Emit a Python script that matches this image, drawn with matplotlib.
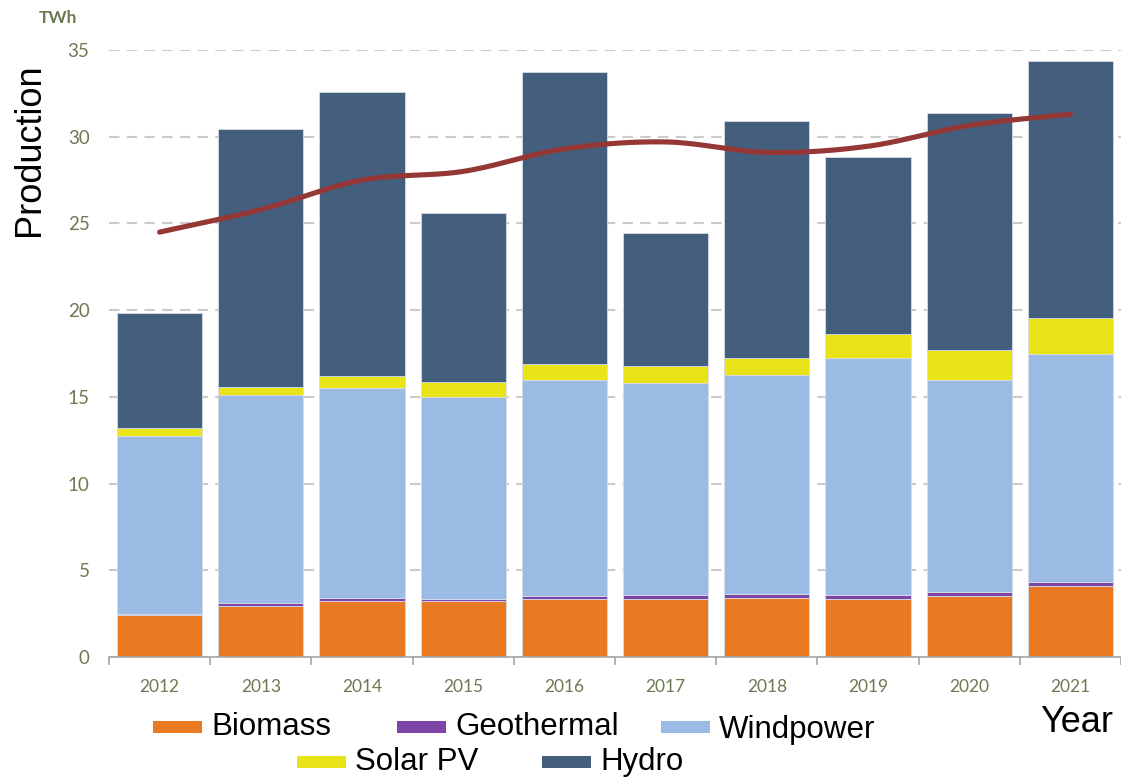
import numpy as np
import matplotlib
matplotlib.use('Agg')
import matplotlib.pyplot as plt
from matplotlib.patches import Rectangle

years = ['2012', '2013', '2014', '2015', '2016', '2017', '2018', '2019', '2020', '2021']
biomass = [2.42, 2.94, 3.22, 3.22, 3.34, 3.32, 3.42, 3.36, 3.51, 4.12]
geothermal = [0.08, 0.19, 0.19, 0.15, 0.16, 0.25, 0.23, 0.21, 0.21, 0.21]
windpower = [10.26, 11.97, 12.11, 11.63, 12.50, 12.21, 12.59, 13.68, 12.28, 13.13]
solar_pv = [0.42, 0.48, 0.66, 0.83, 0.87, 1.01, 1.01, 1.37, 1.71, 2.06]
hydro = [6.66, 14.89, 16.40, 9.78, 16.89, 7.63, 13.64, 10.22, 13.64, 14.87]
trend = [24.5, 25.8, 27.5, 28.0, 29.3, 29.7, 29.1, 29.45, 30.65, 31.3]

series_names = ['Biomass', 'Geothermal', 'Windpower', 'Solar PV', 'Hydro']
series_colors = ['#E87A24', '#7E45A6', '#9BBAE4', '#E8E418', '#445F7E']
series_vals = [biomass, geothermal, windpower, solar_pv, hydro]

W, H = 1121, 778
fig = plt.figure(figsize=(W / 100, H / 100), dpi=100)
ax = fig.add_axes([109 / W, (H - 657) / H, 1012 / W, 607 / H])

x = np.arange(len(years))
bottom = np.zeros(len(years))
for name, col, vals in zip(series_names, series_colors, series_vals):
    v = np.array(vals)
    ax.bar(x, v, width=0.84, bottom=bottom, color=col, edgecolor='#D5DCE6',
           linewidth=0.6, zorder=3, label=name)
    bottom += v

# smoothed trend line (Catmull-Rom, like Excel's smoothed line)
t = np.array(trend, dtype=float)
px = np.concatenate([[2 * x[0] - x[1]], x, [2 * x[-1] - x[-2]]]).astype(float)
py = np.concatenate([[2 * t[0] - t[1]], t, [2 * t[-1] - t[-2]]])
sx, sy = [], []
for i in range(1, len(px) - 2):
    p0, p1, p2, p3 = (np.array([px[j], py[j]]) for j in (i - 1, i, i + 1, i + 2))
    c1 = p1 + (p2 - p0) / 6
    c2 = p2 - (p3 - p1) / 6
    s = np.linspace(0, 1, 30)[:, None]
    pts = (1 - s) ** 3 * p1 + 3 * (1 - s) ** 2 * s * c1 + 3 * (1 - s) * s ** 2 * c2 + s ** 3 * p2
    sx.extend(pts[:, 0]); sy.extend(pts[:, 1])
ax.plot(sx, sy, color='#953735', linewidth=3.7, solid_capstyle='round', zorder=4, clip_on=False)

ax.set_xlim(-0.5, len(years) - 0.5)
ax.set_ylim(0, 35)
ax.set_yticks(range(0, 36, 5))
ax.yaxis.grid(True, linestyle=(0, (5, 3.5)), color='#CBCBCB', linewidth=1.5, zorder=0)
ax.set_axisbelow(True)

for s in ['top', 'right', 'left']:
    ax.spines[s].set_visible(False)
ax.spines['bottom'].set_color('#A6A6A6')
ax.spines['bottom'].set_linewidth(1.2)
ax.spines['bottom'].set_zorder(5)

tick_color = '#6C7A50'
ax.set_xticks(x)
ax.set_xticklabels(years, fontfamily='Lato', fontsize=12.5, color=tick_color)
ax.tick_params(axis='x', length=0, pad=16)
ax.set_xticks(np.arange(-0.5, len(years), 1.0), minor=True)
ax.tick_params(axis='x', which='minor', length=6, width=1.2, color='#A6A6A6')
ax.tick_params(axis='y', length=0, pad=14, labelsize=13.5, labelcolor=tick_color)
for lbl in ax.get_yticklabels():
    lbl.set_fontfamily('Lato')

fig.text(12 / W, 1 - 150 / H, 'Production', rotation=90, fontsize=26,
         fontfamily='Liberation Sans', ha='left', va='center', color='black')
fig.text(57.5 / W, 1 - 18 / H, 'TWh', fontsize=12.5, fontweight='bold',
         fontfamily='Lato', color=tick_color, ha='center', va='center')
fig.text(1113 / W, 1 - 722 / H, 'Year', fontsize=26, fontfamily='Liberation Sans',
         ha='right', va='center', color='black')

# legend (two centered rows)
leg_pos = [(153, 727), (397, 727), (661, 727), (297, 762), (542, 762)]
text_dy = [0, 0, 3, 0, 0]
for name, col, (lx, ly), dy in zip(series_names, series_colors, leg_pos, text_dy):
    fig.add_artist(Rectangle((lx / W, 1 - (ly + 6) / H), 49 / W, 12 / H,
                             transform=fig.transFigure, facecolor=col, edgecolor='none'))
    fig.text((lx + 58) / W, 1 - (ly + dy) / H, name, fontsize=22.5, fontfamily='Liberation Sans',
             ha='left', va='center', color='black')

fig.savefig('out.png', dpi=100)
